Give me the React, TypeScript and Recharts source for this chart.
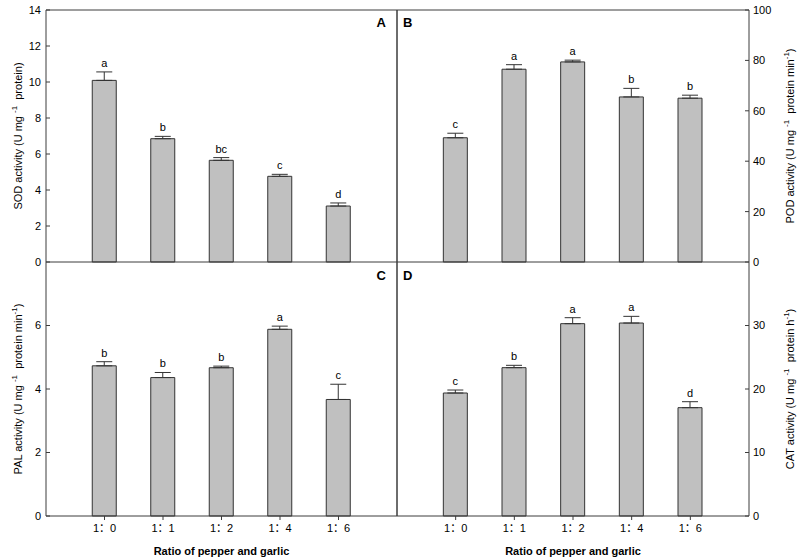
import React from 'react';
import {
  ComposedChart,
  Bar,
  XAxis,
  YAxis,
  ErrorBar,
  LabelList,
  ReferenceLine,
} from 'recharts';

const FONT = "'Liberation Sans', Arial, 'Noto Sans CJK SC', sans-serif";

const categories = ['1：0', '1：1', '1：2', '1：4', '1：6'];

const sodValues = [10.09, 6.85, 5.65, 4.76, 3.11];
const sodErr = [0.47, 0.13, 0.15, 0.11, 0.17];
const sodSig = ['a', 'b', 'bc', 'c', 'd'];

const podValues = [49.3, 76.5, 79.4, 65.5, 65.0];
const podErr = [1.8, 1.8, 0.7, 3.4, 1.2];
const podSig = ['c', 'a', 'a', 'b', 'b'];

const palValues = [4.73, 4.36, 4.67, 5.88, 3.67];
const palErr = [0.13, 0.16, 0.05, 0.1, 0.48];
const palSig = ['b', 'b', 'b', 'a', 'c'];

const catValues = [19.37, 23.36, 30.29, 30.39, 17.06];
const catErr = [0.47, 0.37, 0.94, 1.05, 0.94];
const catSig = ['c', 'b', 'a', 'a', 'd'];

const sodTicks = [0, 2, 4, 6, 8, 10, 12, 14];
const podTicks = [0, 20, 40, 60, 80, 100];
const palTicks = [0, 2, 4, 6];
const catTicks = [0, 10, 20, 30];
const xTicks = [1, 2, 3, 4, 5];

type Seg = { t: string; sup?: boolean };

const sodTitle: Seg[] = [{ t: 'SOD activity (U mg ' }, { t: '-1', sup: true }, { t: '  protein)' }];
const podTitle: Seg[] = [
  { t: 'POD activity (U mg ' },
  { t: '-1', sup: true },
  { t: '  protein min' },
  { t: '-1', sup: true },
  { t: ')' },
];
const palTitle: Seg[] = [
  { t: 'PAL activity (U mg ' },
  { t: '-1', sup: true },
  { t: '  protein min' },
  { t: '-1', sup: true },
  { t: ')' },
];
const catTitle: Seg[] = [
  { t: 'CAT activity (U mg ' },
  { t: '-1', sup: true },
  { t: '  protein h' },
  { t: '-1', sup: true },
  { t: ')' },
];

const buildData = (vals: number[], errs: number[], sigs: string[]) =>
  categories.map((c, i) => ({
    pos: i + 1,
    cat: c,
    value: vals[i],
    err: [0, errs[i]],
    sig: sigs[i],
  }));

const renderTitle = (segs: Seg[], side: 'left' | 'right') => (props: any) => {
  const vb = props.viewBox || { x: 0, y: 0, width: 0, height: 0 };
  const x = side === 'left' ? vb.x + 22 : vb.x + 45;
  const y = vb.y + vb.height / 2;
  let raised = false;
  const spans = segs.map((s, i) => {
    let dy = 0;
    if (s.sup && !raised) {
      dy = -5;
      raised = true;
    } else if (!s.sup && raised) {
      dy = 5;
      raised = false;
    }
    return (
      <tspan key={i} dy={dy} fontSize={s.sup ? 8 : 11} style={{ whiteSpace: 'pre' }}>
        {s.t}
      </tspan>
    );
  });
  return (
    <text
      transform={`translate(${x},${y}) rotate(-90)`}
      textAnchor="middle"
      fontFamily={FONT}
      fill="#000"
      style={{ whiteSpace: 'pre' }}
    >
      {spans}
    </text>
  );
};

const renderLetter = (letter: string, side: 'left' | 'right', dy: number) => (props: any) => {
  const vb = props.viewBox || { x: 0, y: 0 };
  const x = side === 'right' ? vb.x - 11 : vb.x + 6;
  return (
    <text
      x={x}
      y={vb.y + dy}
      textAnchor={side === 'right' ? 'end' : 'start'}
      fontFamily={FONT}
      fontWeight="bold"
      fontSize={13}
      fill="#000"
    >
      {letter}
    </text>
  );
};

const renderSig = (vals: number[], errs: number[], sigs: string[]) => (props: any) => {
  const { x, y, width, height } = props;
  let index = props.index;
  if (index === undefined || index === null) {
    index = vals.indexOf(props.value);
  }
  const v = vals[index];
  const pxPerUnit = v ? height / v : 0;
  const top = y - errs[index] * pxPerUnit;
  return (
    <text
      x={x + width / 2}
      y={top - 5}
      textAnchor="middle"
      fontFamily={FONT}
      fontSize={11}
      fill="#000"
    >
      {sigs[index]}
    </text>
  );
};

const renderXTitle = (props: any) => {
  const vb = props.viewBox || { x: 0, y: 0, width: 0, height: 0 };
  return (
    <text
      x={vb.x + vb.width / 2}
      y={vb.y + 39}
      textAnchor="middle"
      fontFamily={FONT}
      fontWeight="bold"
      fontSize={11}
      fill="#000"
    >
      Ratio of pepper and garlic
    </text>
  );
};

const LINE = '#3c3c3c';
const tickStyle = { fontSize: 11, fill: '#000', fontFamily: FONT };

type PanelProps = {
  vals: number[];
  errs: number[];
  sigs: string[];
  ticks: number[];
  max: number;
  title: Seg[];
  letter: string;
  side: 'left' | 'right';
  bottom: boolean;
};

function Panel({ vals, errs, sigs, ticks, max, title, letter, side, bottom }: PanelProps) {
  const data = buildData(vals, errs, sigs);
  const width = side === 'left' ? 407 : 413;
  const height = bottom ? 307 : 272;
  const margin =
    side === 'left'
      ? { top: 10, right: 10, left: 0, bottom: bottom ? 0 : 10 }
      : { top: 10, right: 0, left: 10, bottom: bottom ? 0 : 10 };
  const letterDy = bottom ? 18 : 17;
  return (
    <ComposedChart width={width} height={height} data={data} margin={margin}>
      <XAxis
        type="number"
        dataKey="pos"
        domain={[0, 6]}
        ticks={xTicks}
        hide={!bottom}
        height={43}
        tickFormatter={(v: number) => categories[v - 1] ?? ''}
        tick={tickStyle}
        tickSize={4}
        tickMargin={4}
        stroke={LINE}
        axisLine={{ stroke: LINE }}
        tickLine={{ stroke: LINE }}
        label={bottom ? { content: renderXTitle } : undefined}
        interval={0}
      />
      <YAxis
        type="number"
        orientation={side}
        width={side === 'left' ? 46 : 51}
        domain={[0, max]}
        ticks={ticks}
        interval={0}
        tick={tickStyle}
        tickSize={-4}
        tickMargin={side === 'left' ? 9 : 8}
        axisLine={{ stroke: LINE }}
        tickLine={{ stroke: LINE }}
        stroke={LINE}
        label={{ content: renderTitle(title, side) }}
      />
      <ReferenceLine y={max} stroke={LINE} strokeWidth={1} />
      <ReferenceLine
        x={side === 'left' ? 6 : 0}
        stroke={LINE}
        strokeWidth={1}
        label={{ content: renderLetter(letter, side === 'left' ? 'right' : 'left', letterDy) }}
      />
      <Bar
        dataKey="value"
        barSize={24}
        fill="#c0c0c0"
        stroke="#333"
        strokeWidth={1}
        isAnimationActive={false}
      >
        <ErrorBar dataKey="err" direction="y" width={8} stroke="#333" strokeWidth={1} />
        <LabelList dataKey="value" content={renderSig(vals, errs, sigs)} />
      </Bar>
    </ComposedChart>
  );
}

export default function App() {
  return (
    <div
      style={{
        position: 'absolute',
        left: 0,
        top: 0,
        width: 800,
        height: 559,
        background: '#fff',
        overflow: 'hidden',
      }}
    >
      <div style={{ position: 'absolute', left: 0, top: 0 }}>
        <Panel vals={sodValues} errs={sodErr} sigs={sodSig} ticks={sodTicks} max={14} title={sodTitle} letter="A" side="left" bottom={false} />
      </div>
      <div style={{ position: 'absolute', left: 387, top: 0 }}>
        <Panel vals={podValues} errs={podErr} sigs={podSig} ticks={podTicks} max={100} title={podTitle} letter="B" side="right" bottom={false} />
      </div>
      <div style={{ position: 'absolute', left: 0, top: 252 }}>
        <Panel vals={palValues} errs={palErr} sigs={palSig} ticks={palTicks} max={8} title={palTitle} letter="C" side="left" bottom={true} />
      </div>
      <div style={{ position: 'absolute', left: 387, top: 252 }}>
        <Panel vals={catValues} errs={catErr} sigs={catSig} ticks={catTicks} max={40} title={catTitle} letter="D" side="right" bottom={true} />
      </div>
    </div>
  );
}
